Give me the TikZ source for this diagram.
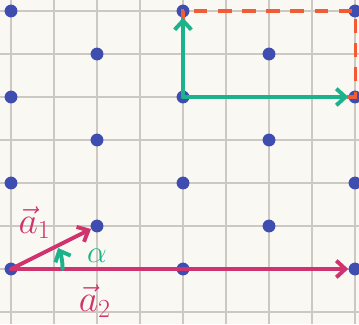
\documentclass[tikz,border=0pt]{standalone}
\usepackage{tikz}
\usetikzlibrary{arrows.meta,positioning}
\definecolor{paper}{RGB}{250, 248, 243}
\definecolor{gridgray}{RGB}{205, 200, 193}
\definecolor{dotblue}{RGB}{63, 77, 177}
\definecolor{vecpink}{RGB}{208, 52, 110}
\definecolor{anglegreen}{RGB}{28, 178, 140}
\definecolor{cellorange}{RGB}{242, 92, 52}
\tikzstyle{dot} = [circle, fill=dotblue, draw=none, inner sep=0pt, minimum size=8.5pt]
\tikzstyle{gridline} = [draw=gridgray, line width=1.1pt]
\tikzstyle{vecedge} = [draw=vecpink, line width=2.6pt, line cap=round, -{Straight Barb[length=6pt,width=11pt]}]
\tikzstyle{celledge} = [draw=anglegreen, line width=2.6pt, line cap=round, -{Straight Barb[length=6pt,width=11pt]}]
\tikzstyle{cellbox} = [draw=cellorange, line width=2pt, dash pattern=on 9pt off 7pt]
\tikzstyle{veclabel} = [text=vecpink, font=\fontsize{24}{28}\selectfont]
\tikzstyle{anglelabel} = [text=anglegreen, font=\huge]
\begin{document}
\begin{tikzpicture}

% paper and grid =============================
\fill[paper] (-0.256,-1.279) rectangle (8.093,6.256);
\useasboundingbox (-0.256,-1.279) rectangle (8.093,6.256);
\draw[gridline] (-0.256,-1.279) grid (8.093,6.256);

% lattice points
\foreach \x in {0,4,8}
  \foreach \y in {0,2,4,6}
    \node[dot] (p\x\y) at (\x,\y) {};
\foreach \x in {2,6}
  \foreach \y in {1,3,5}
    \node[dot] (p\x\y) at (\x,\y) {};

% unit cell
\draw[cellbox] (p44.center) rectangle (p86.center);
\path[celledge] (p44.center) -- (p46);
\path[celledge] (p44.center) -- (p84);

% primitive vectors
\path[vecedge] (p00.center) -- (p21);
\path[vecedge] (p00.center) -- (p80);
\node[veclabel] (la1) at (0.55,1.08) {$\vec{a}_1$};
\node[veclabel] (la2) at (1.95,-0.75) {$\vec{a}_2$};

% angle
\draw[celledge] (p00.center) ++(1.2,0) arc[start angle=0, end angle=24, radius=1.2];
\node[anglelabel] (alpha) at (2.0,0.3) {$\alpha$};

\end{tikzpicture}
\end{document}
